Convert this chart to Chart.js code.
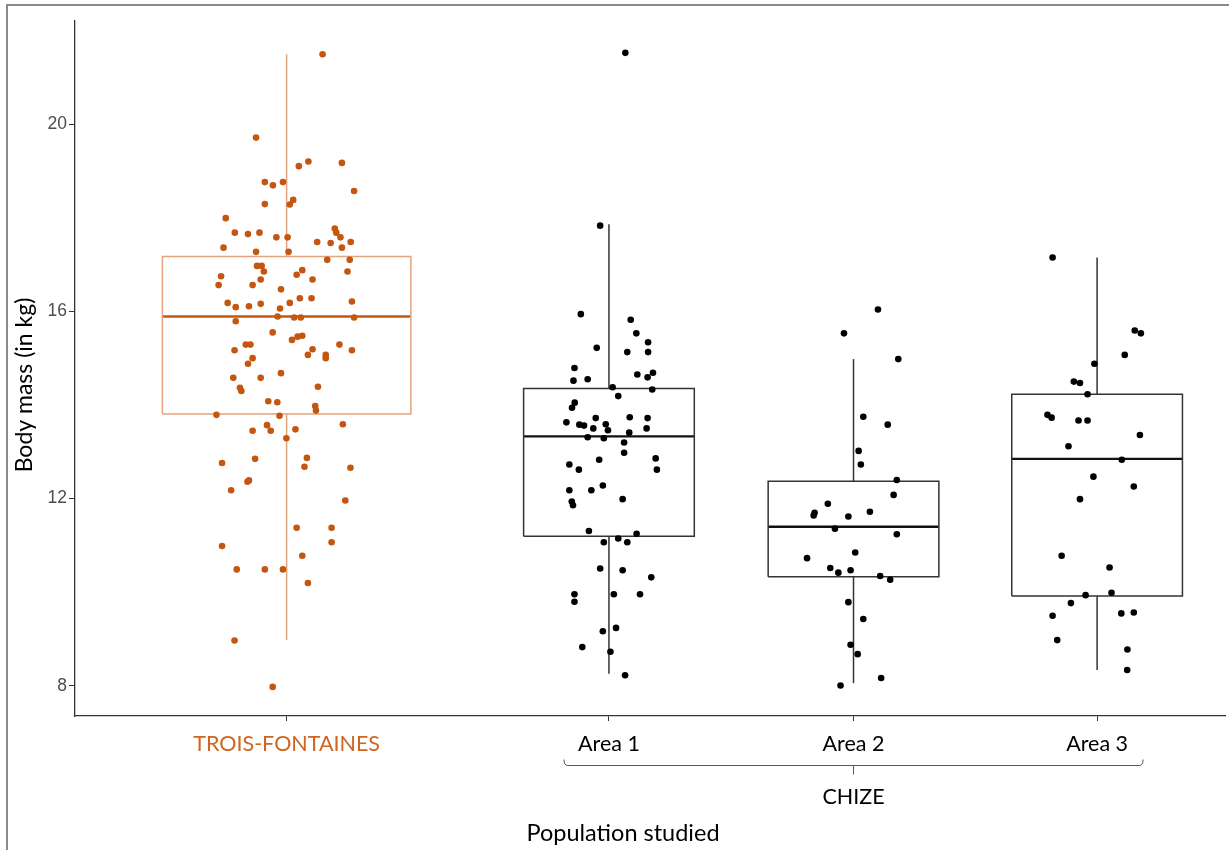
<!DOCTYPE html>
<html>
<head>
<meta charset="utf-8">
<script src="https://cdn.jsdelivr.net/npm/chart.js@4.4.1/dist/chart.umd.min.js"></script>
<style>
  html, body { margin: 0; padding: 0; background: #ffffff; }
  #wrap { width: 1229px; height: 850px; }
</style>
</head>
<body>
<div id="wrap"><canvas id="c" width="1229" height="850"></canvas></div>
<script>
// ---------------- DATA ----------------
const categories = ['TROIS-FONTAINES', 'Area 1', 'Area 2', 'Area 3'];
const groupName = 'CHIZE';
const xTitle = 'Population studied';
const yTitle = 'Body mass (in kg)';
const catPos = [1, 2.318, 3.318, 4.314];
const yTicks = [8, 12, 16, 20];

// box statistics (kg)
const boxLow  = [8.98, 8.26, 8.06, 8.34];
const boxQ1   = [13.81, 11.20, 10.33, 9.92];
const boxMed  = [15.89, 13.33, 11.40, 12.85];
const boxQ3   = [17.17, 14.35, 12.37, 14.23];
const boxHigh = [21.49, 17.86, 14.98, 17.15];

// jittered observations [x (jittered category position), body mass]
const tfPoints = [
[1.147,21.49],[0.875,19.71],[1.050,19.10],[1.089,19.20],[1.226,19.17],[0.911,18.76],[0.944,18.69],[0.985,18.76],
[1.276,18.57],[0.911,18.29],[1.013,18.28],[1.027,18.38],[0.751,17.99],[0.788,17.68],[0.842,17.65],[0.889,17.68],
[0.958,17.58],[1.004,17.58],[1.197,17.77],[1.203,17.68],[1.220,17.58],[1.125,17.48],[1.180,17.46],[1.262,17.48],
[0.742,17.36],[0.875,17.27],[1.008,17.27],[1.226,17.36],[1.166,17.10],[1.258,17.10],[0.879,16.97],[0.898,16.97],
[0.907,16.85],[0.732,16.75],[1.041,16.78],[1.064,16.88],[1.249,16.85],[0.722,16.56],[0.861,16.56],[0.894,16.68],
[1.106,16.68],[0.977,16.47],[0.759,16.18],[0.792,16.09],[0.846,16.11],[0.894,16.16],[0.973,16.06],[1.013,16.18],
[1.054,16.28],[1.102,16.28],[1.267,16.21],[0.963,15.89],[1.031,15.87],[1.058,15.87],[1.276,15.87],[0.792,15.79],
[0.943,15.55],[1.022,15.39],[1.045,15.46],[1.064,15.48],[0.833,15.29],[0.852,15.29],[0.787,15.17],[1.106,15.19],
[1.216,15.29],[1.267,15.17],[0.861,15.00],[1.087,15.07],[1.160,15.07],[1.160,15.00],[0.842,14.88],[0.782,14.58],
[0.894,14.58],[0.977,14.68],[0.809,14.37],[0.815,14.30],[1.128,14.39],[0.925,14.08],[0.962,14.06],[1.117,13.98],
[1.120,13.88],[0.713,13.79],[0.971,13.77],[1.230,13.59],[0.920,13.57],[0.861,13.45],[0.935,13.45],[1.036,13.48],
[0.999,13.29],[0.736,12.76],[0.871,12.85],[1.083,12.87],[1.073,12.68],[1.261,12.66],[0.846,12.39],[0.840,12.36],
[0.773,12.18],[1.240,11.96],[1.041,11.38],[1.184,11.38],[1.184,11.07],[0.736,10.99],[1.064,10.78],[0.796,10.49],
[0.911,10.49],[0.985,10.49],[1.087,10.20],[0.787,8.97],[0.943,7.98]
];
const area1Points = [
[2.385,21.52],[2.282,17.83],[2.203,15.94],[2.407,15.82],[2.430,15.53],[2.478,15.34],[2.268,15.22],[2.393,15.13],
[2.478,15.13],[2.177,14.79],[2.173,14.52],[2.231,14.55],[2.434,14.65],[2.476,14.59],[2.498,14.69],[2.495,14.33],
[2.333,14.38],[2.356,14.19],[2.178,14.05],[2.167,13.94],[2.144,13.63],[2.264,13.72],[2.197,13.58],[2.216,13.56],
[2.254,13.50],[2.305,13.59],[2.314,13.46],[2.403,13.74],[2.401,13.41],[2.476,13.72],[2.472,13.50],[2.231,13.31],
[2.297,13.29],[2.380,13.20],[2.380,12.98],[2.156,12.73],[2.195,12.62],[2.278,12.83],[2.509,12.86],[2.514,12.62],
[2.156,12.18],[2.246,12.18],[2.293,12.28],[2.374,11.99],[2.166,11.94],[2.171,11.86],[2.236,11.31],[2.431,11.25],
[2.297,11.07],[2.356,11.15],[2.393,11.07],[2.282,10.51],[2.374,10.47],[2.491,10.32],[2.177,9.96],[2.177,9.80],
[2.338,9.96],[2.445,9.96],[2.293,9.17],[2.347,9.24],[2.209,8.83],[2.324,8.73],[2.384,8.23]
];
const area2Points = [
[3.418,16.04],[3.279,15.53],[3.501,14.98],[3.358,13.75],[3.458,13.58],[3.339,13.02],[3.348,12.73],[3.495,12.40],
[3.482,12.08],[3.213,11.89],[3.159,11.70],[3.155,11.64],[3.297,11.62],[3.385,11.72],[3.242,11.36],[3.495,11.24],
[3.325,10.85],[3.128,10.73],[3.223,10.52],[3.256,10.42],[3.306,10.47],[3.427,10.35],[3.468,10.27],[3.297,9.79],
[3.358,9.43],[3.306,8.88],[3.335,8.68],[3.431,8.17],[3.265,8.01]
];
const area3Points = [
[4.132,17.15],[4.468,15.59],[4.493,15.53],[4.427,15.07],[4.303,14.88],[4.219,14.50],[4.244,14.47],[4.275,14.23],
[4.111,13.79],[4.128,13.73],[4.238,13.67],[4.275,13.67],[4.489,13.36],[4.197,13.12],[4.415,12.83],[4.299,12.47],
[4.464,12.26],[4.244,11.99],[4.169,10.78],[4.365,10.53],[4.267,9.94],[4.373,9.99],[4.207,9.77],[4.132,9.50],
[4.413,9.55],[4.464,9.57],[4.151,8.98],[4.438,8.78],[4.437,8.34]
];
const groupPoints = [tfPoints, area1Points, area2Points, area3Points];

// ---------------- STYLE ----------------
const ORANGE = '#C4560F';
const ORANGE_LIGHT = '#E3A47E';
const ORANGE_TEXT = '#D0651F';
const BOX_HALF = [0.508, 0.349, 0.349, 0.349];
const pointColor = [ORANGE, '#000000', '#000000', '#000000'];
const boxColor = [ORANGE_LIGHT, '#333333', '#333333', '#333333'];
const medColor = [ORANGE, '#111111', '#111111', '#111111'];
const TEXT_FONT = 'Lato, "Open Sans", sans-serif';

// ---------------- DATASETS ----------------
const datasets = [];
groupPoints.forEach((pts, i) => {
  datasets.push({
    type: 'scatter',
    data: pts.map(p => ({ x: p[0], y: p[1] })),
    backgroundColor: pointColor[i],
    borderWidth: 0,
    pointRadius: 3.3,
    order: 0
  });
});
const lineDs = (data, color, width) => ({
  type: 'line', data, borderColor: color, borderWidth: width, pointRadius: 0,
  fill: false, tension: 0, showLine: true, order: 1, borderCapStyle: 'butt', borderJoinStyle: 'miter'
});
categories.forEach((c, i) => {
  const cx = catPos[i], h = BOX_HALF[i];
  datasets.push(lineDs([
    { x: cx - h, y: boxQ1[i] }, { x: cx + h, y: boxQ1[i] }, { x: cx + h, y: boxQ3[i] },
    { x: cx - h, y: boxQ3[i] }, { x: cx - h, y: boxQ1[i] }], boxColor[i], 1.5));
  datasets.push(lineDs([{ x: cx, y: boxLow[i] }, { x: cx, y: boxQ1[i] }], boxColor[i], 1.5));
  datasets.push(lineDs([{ x: cx, y: boxQ3[i] }, { x: cx, y: boxHigh[i] }], boxColor[i], 1.5));
  datasets.push(lineDs([{ x: cx - h, y: boxMed[i] }, { x: cx + h, y: boxMed[i] }], medColor[i], 2.4));
});

// ---------------- PLUGINS ----------------
const background = {
  id: 'background',
  beforeDraw(chart) {
    const ctx = chart.ctx;
    ctx.save();
    ctx.fillStyle = '#ffffff';
    ctx.fillRect(0, 0, chart.width, chart.height);
    ctx.strokeStyle = '#8a8a8a';
    ctx.lineWidth = 2;
    ctx.beginPath();
    ctx.moveTo(7, chart.height);
    ctx.lineTo(7, 5);
    ctx.lineTo(chart.width, 5);
    ctx.stroke();
    ctx.restore();
  }
};
const annotations = {
  id: 'annotations',
  afterDraw(chart) {
    const ctx = chart.ctx, xs = chart.scales.x, area = chart.chartArea;
    ctx.save();
    // brace under CHIZE areas
    const bl = xs.getPixelForValue(catPos[1]) - 45;
    const br = xs.getPixelForValue(catPos[3]) + 46;
    const bc = xs.getPixelForValue(catPos[2]);
    const by = area.bottom + 49.5;
    ctx.strokeStyle = '#555555';
    ctx.lineWidth = 1;
    ctx.beginPath();
    ctx.moveTo(bl, by - 6);
    ctx.quadraticCurveTo(bl, by, bl + 4, by);
    ctx.lineTo(br - 4, by);
    ctx.quadraticCurveTo(br, by, br, by - 6);
    ctx.moveTo(bc, by);
    ctx.lineTo(bc, by + 9);
    ctx.stroke();
    // texts
    ctx.fillStyle = '#000000';
    ctx.textAlign = 'center';
    ctx.textBaseline = 'middle';
    ctx.font = '21.5px ' + TEXT_FONT;
    ctx.fillText(groupName, bc, area.bottom + 81);
    ctx.font = '23.5px ' + TEXT_FONT;
    ctx.fillText(xTitle, 623, area.bottom + 117);
    ctx.translate(25, 385);
    ctx.rotate(-Math.PI / 2);
    ctx.font = '23px ' + TEXT_FONT;
    ctx.fillText(yTitle, 0, 0);
    ctx.restore();
  }
};

// ---------------- CHART ----------------
new Chart(document.getElementById('c'), {
  type: 'scatter',
  data: { datasets },
  options: {
    responsive: false,
    animation: false,
    layout: { padding: { left: 7, top: 21, right: 2, bottom: 84 } },
    plugins: { legend: { display: false }, tooltip: { enabled: false } },
    scales: {
      x: {
        type: 'linear',
        min: 0.1347, max: 4.837,
        afterFit: s => { s.height = 50; },
        afterBuildTicks: s => { s.ticks = catPos.map(v => ({ value: v })); },
        border: { display: true, color: '#333333', width: 1.3 },
        grid: { display: true, drawOnChartArea: false, drawTicks: true, tickLength: 5, color: '#333333' },
        ticks: {
          autoSkip: false, maxRotation: 0, padding: 10,
          callback: (v, i) => categories[i],
          color: ctx => (ctx.index === 0 ? ORANGE_TEXT : '#000000'),
          font: { family: TEXT_FONT, size: 21.5 }
        }
      },
      y: {
        type: 'linear',
        min: 7.359, max: 22.2,
        afterFit: s => { s.width = 68; },
        afterBuildTicks: s => { s.ticks = yTicks.map(v => ({ value: v })); },
        border: { display: true, color: '#333333', width: 1.3 },
        grid: { display: true, drawOnChartArea: false, drawTicks: true, tickLength: 6, color: '#333333' },
        ticks: {
          padding: 2, color: '#4D4D4D',
          font: { family: '"Liberation Sans", Arial, sans-serif', size: 17.5 }
        }
      }
    }
  },
  plugins: [background, annotations]
});
</script>
</body>
</html>
